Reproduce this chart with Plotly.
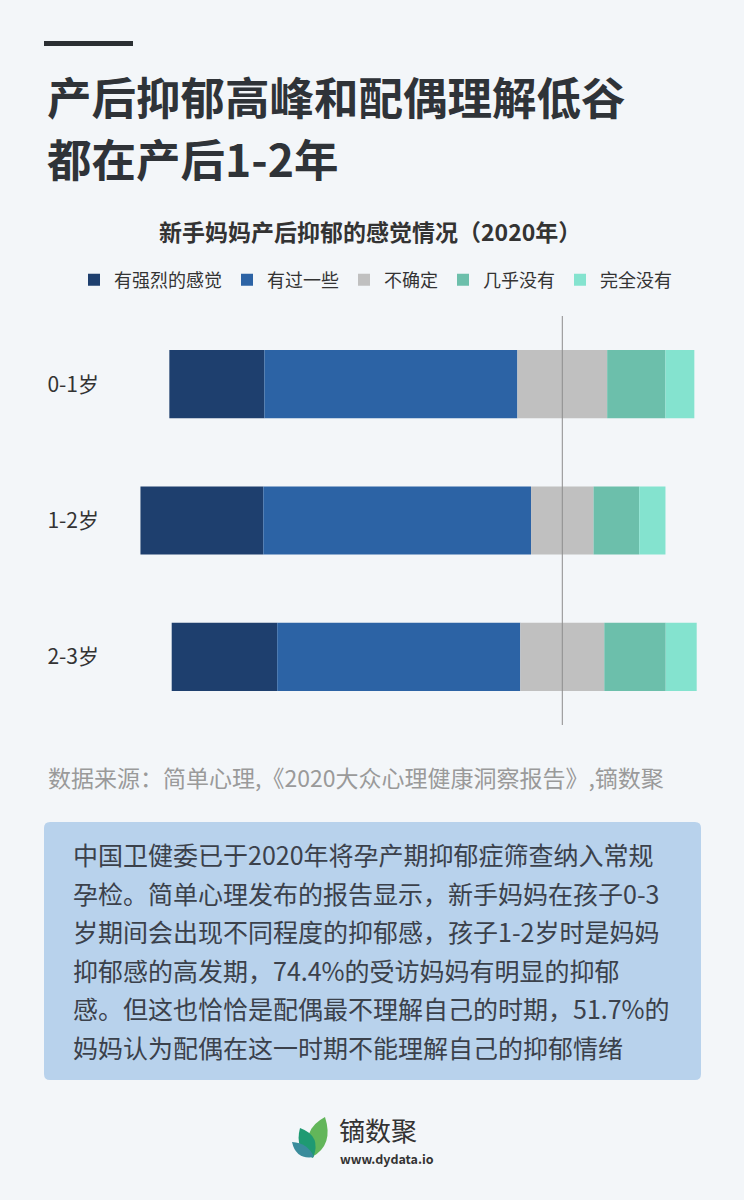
import plotly.graph_objects as go
import numpy as np

# ---------------- data ----------------
categories = ["0-1岁", "1-2岁", "2-3岁"]
series_names = ["有强烈的感觉", "有过一些", "不确定", "几乎没有", "完全没有"]
strong = [18.1, 23.4, 20.1]
some = [48.2, 51.0, 46.3]
unsure = [17.1, 11.9, 16.0]
almost_none = [11.1, 8.7, 11.7]
none_at_all = [5.5, 5.0, 5.9]
colors = ["#1e3f6e", "#2c63a5", "#c0c0c0", "#6cbfab", "#84e3cf"]

title_lines = ["产后抑郁高峰和配偶理解低谷", "都在产后1-2年"]
subtitle = "新手妈妈产后抑郁的感觉情况（2020年）"
source = "数据来源：简单心理,《2020大众心理健康洞察报告》,镝数聚"
body_lines = [
    "中国卫健委已于2020年将孕产期抑郁症筛查纳入常规",
    "孕检。简单心理发布的报告显示，新手妈妈在孩子0-3",
    "岁期间会出现不同程度的抑郁感，孩子1-2岁时是妈妈",
    "抑郁感的高发期，74.4%的受访妈妈有明显的抑郁",
    "感。但这也恰恰是配偶最不理解自己的时期，51.7%的",
    "妈妈认为配偶在这一时期不能理解自己的抑郁情绪",
]

# ---------------- layout geometry ----------------
FW, FH = 744, 1200
L, R, T, B = 110, 720, 316, 725
W, H = R - L, B - T
ZERO_PX = 562.3
PX_PER_UNIT = 5.25
x_range = [-(ZERO_PX - L) / PX_PER_UNIT, (R - ZERO_PX) / PX_PER_UNIT]


def px(x):
    return (x - L) / W


def py(y):
    return (B - y) / H


FONT = "Noto Sans CJK SC"

# diverging bases
s = np.array(strong)
so = np.array(some)
u = np.array(unsure)
an = np.array(almost_none)
na = np.array(none_at_all)
vals = [s, so, u, an, na]
left_start = -(s + so + u / 2)
bases = [left_start, left_start + s, -u / 2, u / 2, u / 2 + an]

fig = go.Figure()
for name, v, b, c in zip(series_names, vals, bases, colors):
    fig.add_trace(go.Bar(
        y=categories, x=v, base=b, orientation="h", name=name,
        marker=dict(color=c, line=dict(width=0)), width=0.5,
    ))

shapes = []
# zero line
shapes.append(dict(type="line", xref="x", yref="paper", x0=0, x1=0, y0=0, y1=1,
                   line=dict(color="#8c8c8c", width=1), layer="above"))
# header bar
shapes.append(dict(type="rect", xref="paper", yref="paper", x0=px(44), x1=px(133),
                   y0=py(46), y1=py(41), fillcolor="#2b2f33", line=dict(width=0)))


def rounded_rect(x0, y0, x1, y1, r):
    p = f"M {px(x0 + r)},{py(y0)} L {px(x1 - r)},{py(y0)} Q {px(x1)},{py(y0)} {px(x1)},{py(y0 + r)} "
    p += f"L {px(x1)},{py(y1 - r)} Q {px(x1)},{py(y1)} {px(x1 - r)},{py(y1)} "
    p += f"L {px(x0 + r)},{py(y1)} Q {px(x0)},{py(y1)} {px(x0)},{py(y1 - r)} "
    p += f"L {px(x0)},{py(y0 + r)} Q {px(x0)},{py(y0)} {px(x0 + r)},{py(y0)} Z"
    return p


shapes.append(dict(type="path", xref="paper", yref="paper", path=rounded_rect(44, 822, 701, 1080, 6),
                   fillcolor="#b8d2ec", line=dict(width=0), layer="below"))


def leaf(p0, c1, p1, c2):
    return (f"M {px(p0[0])},{py(p0[1])} Q {px(c1[0])},{py(c1[1])} {px(p1[0])},{py(p1[1])} "
            f"Q {px(c2[0])},{py(c2[1])} {px(p0[0])},{py(p0[1])} Z")


shapes.append(dict(type="path", xref="paper", yref="paper",
                   path=leaf((312, 1157), (300, 1130), (325, 1117), (334, 1145)),
                   fillcolor="#62b65a", line=dict(width=0)))
shapes.append(dict(type="path", xref="paper", yref="paper",
                   path=leaf((313, 1158), (294, 1150), (300, 1128), (322, 1136)),
                   fillcolor="#1f9a72", line=dict(width=0)))
shapes.append(dict(type="path", xref="paper", yref="paper",
                   path=leaf((314, 1157), (296, 1160), (292, 1142), (308, 1143)),
                   fillcolor="#3a8c9c", line=dict(width=0)))

annotations = []
for i, t in enumerate(title_lines):
    annotations.append(dict(text=t, xref="paper", yref="paper", x=px(45), y=py(96 + 61 * i),
                            xanchor="left", yanchor="middle", showarrow=False,
                            font=dict(family=FONT, size=44.5, color="#2f3338", weight="bold")))
annotations.append(dict(text=subtitle, xref="paper", yref="paper", x=px(370), y=py(231),
                        xanchor="center", yanchor="middle", showarrow=False,
                        font=dict(family=FONT, size=23, color="#333333", weight="bold")))
annotations.append(dict(text=source, xref="paper", yref="paper", x=px(46), y=py(777),
                        xanchor="left", yanchor="middle", showarrow=False,
                        font=dict(family=FONT, size=23, color="#9a9a9a")))
for i, t in enumerate(body_lines):
    annotations.append(dict(text=t, xref="paper", yref="paper", x=px(71), y=py(854 + 38.5 * i),
                            xanchor="left", yanchor="middle", showarrow=False,
                            font=dict(family=FONT, size=25, color="#3b414b")))
annotations.append(dict(text="镝数聚", xref="paper", yref="paper", x=px(337), y=py(1129),
                        xanchor="left", yanchor="middle", showarrow=False,
                        font=dict(family=FONT, size=26, color="#333333")))
annotations.append(dict(text="www.dydata.io", xref="paper", yref="paper", x=px(338), y=py(1158),
                        xanchor="left", yanchor="middle", showarrow=False,
                        font=dict(family=FONT, size=12.5, color="#333333", weight="bold")))

fig.update_layout(
    width=FW, height=FH,
    margin=dict(l=L, r=FW - R, t=T, b=FH - B, pad=0),
    paper_bgcolor="#f3f6f9", plot_bgcolor="#f3f6f9",
    barmode="overlay",
    showlegend=True,
    legend=dict(orientation="h", x=px(74), y=py(280), xanchor="left", yanchor="middle",
                font=dict(family=FONT, size=18, color="#333333"), traceorder="normal",
                bgcolor="rgba(0,0,0,0)"),
    xaxis=dict(range=x_range, visible=False, showgrid=False, zeroline=False, fixedrange=True),
    yaxis=dict(type="category", categoryorder="array", categoryarray=categories,
               range=[2.5, -0.5], showgrid=False, zeroline=False, ticks="",
               showline=False, ticklabelstandoff=10,
               tickfont=dict(family=FONT, size=21, color="#333333")),
    shapes=shapes, annotations=annotations,
    font=dict(family=FONT),
)

fig.write_html("out.html")
